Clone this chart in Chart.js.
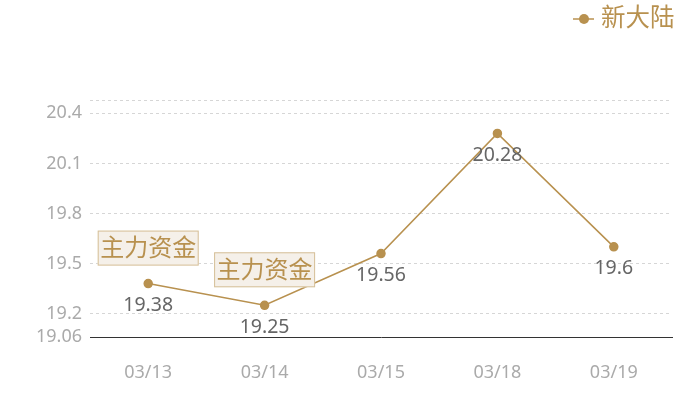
<!DOCTYPE html>
<html>
<head>
<meta charset="utf-8">
<script src="https://cdn.jsdelivr.net/npm/chart.js@4"></script>
<style>
  body { margin: 0; background: #fff; }
</style>
</head>
<body>
<canvas id="lineChart" width="700" height="400"></canvas>
<script>
const dates = ["03/13", "03/14", "03/15", "03/18", "03/19"];
const prices = [19.38, 19.25, 19.56, 20.28, 19.6];
const yTicks = [19.06, 19.2, 19.5, 19.8, 20.1, 20.4, 20.48];
const markIndexes = [0, 1];
const markText = "主力资金";
const seriesName = "新大陆";

const gold = "#b8914f";
const fontFamily = "'Noto Sans', 'Noto Sans CJK SC', sans-serif";

// value labels under each point + the "主力资金" boxes + custom legend
const overlay = {
  id: "overlay",
  afterDatasetsDraw(chart) {
    const ctx = chart.ctx;
    const meta = chart.getDatasetMeta(0);
    ctx.save();
    ctx.font = "19.5px " + fontFamily;
    ctx.fillStyle = "#666";
    ctx.textAlign = "center";
    ctx.textBaseline = "middle";
    meta.data.forEach((pt, i) => {
      ctx.fillText(String(prices[i]), pt.x, pt.y + 22);
    });

    markIndexes.forEach(i => {
      const pt = meta.data[i];
      const w = 101, h = 35;
      const left = pt.x - w / 2, top = pt.y - 18 - h;
      ctx.fillStyle = "#f5f0e9";
      ctx.fillRect(left, top, w, h);
      ctx.strokeStyle = "#d6bf98";
      ctx.lineWidth = 1;
      ctx.strokeRect(left + 0.5, top + 0.5, w - 1, h - 1);
      ctx.font = "24px " + fontFamily;
      ctx.fillStyle = gold;
      ctx.fillText(markText, pt.x, top + h / 2 + 1);
    });

    // legend, top right
    ctx.strokeStyle = gold;
    ctx.lineWidth = 1.5;
    ctx.beginPath();
    ctx.moveTo(573, 19);
    ctx.lineTo(594, 19);
    ctx.stroke();
    ctx.fillStyle = gold;
    ctx.beginPath();
    ctx.arc(584, 19, 5, 0, Math.PI * 2);
    ctx.fill();
    ctx.font = "24.5px " + fontFamily;
    ctx.textAlign = "left";
    ctx.fillText(seriesName, 601, 19);
    ctx.restore();
  }
};

new Chart(document.getElementById("lineChart"), {
  type: "line",
  data: {
    labels: dates,
    datasets: [{
      label: seriesName,
      data: prices,
      borderColor: gold,
      backgroundColor: gold,
      borderWidth: 1.5,
      pointRadius: 4,
      pointHoverRadius: 4,
      tension: 0,
    }],
  },
  options: {
    responsive: false,
    animation: false,
    layout: { padding: { top: 100, right: 28, left: 0, bottom: 0 } },
    plugins: {
      legend: { display: false },
      tooltip: { enabled: false },
    },
    scales: {
      x: {
        offset: true,
        grid: { display: false, drawTicks: false },
        border: { display: true, color: "#333", width: 1 },
        ticks: {
          color: "#aaa",
          padding: 25,
          font: { size: 18, family: fontFamily },
        },
        afterFit(scale) { scale.height = 63; },
      },
      y: {
        min: 19.06,
        max: 20.48,
        afterBuildTicks(scale) {
          scale.ticks = yTicks.map(v => ({ value: v }));
        },
        grid: { color: "#d6d6d6", drawTicks: false },
        border: { display: false, dash: [3, 3] },
        ticks: {
          color: "#aaa",
          padding: 8,
          font: { size: 18, family: fontFamily },
          callback: v => (v === 20.48 ? "" : String(v)),
        },
        afterFit(scale) { scale.width = 90; },
      },
    },
  },
  plugins: [overlay],
});
</script>
</body>
</html>
